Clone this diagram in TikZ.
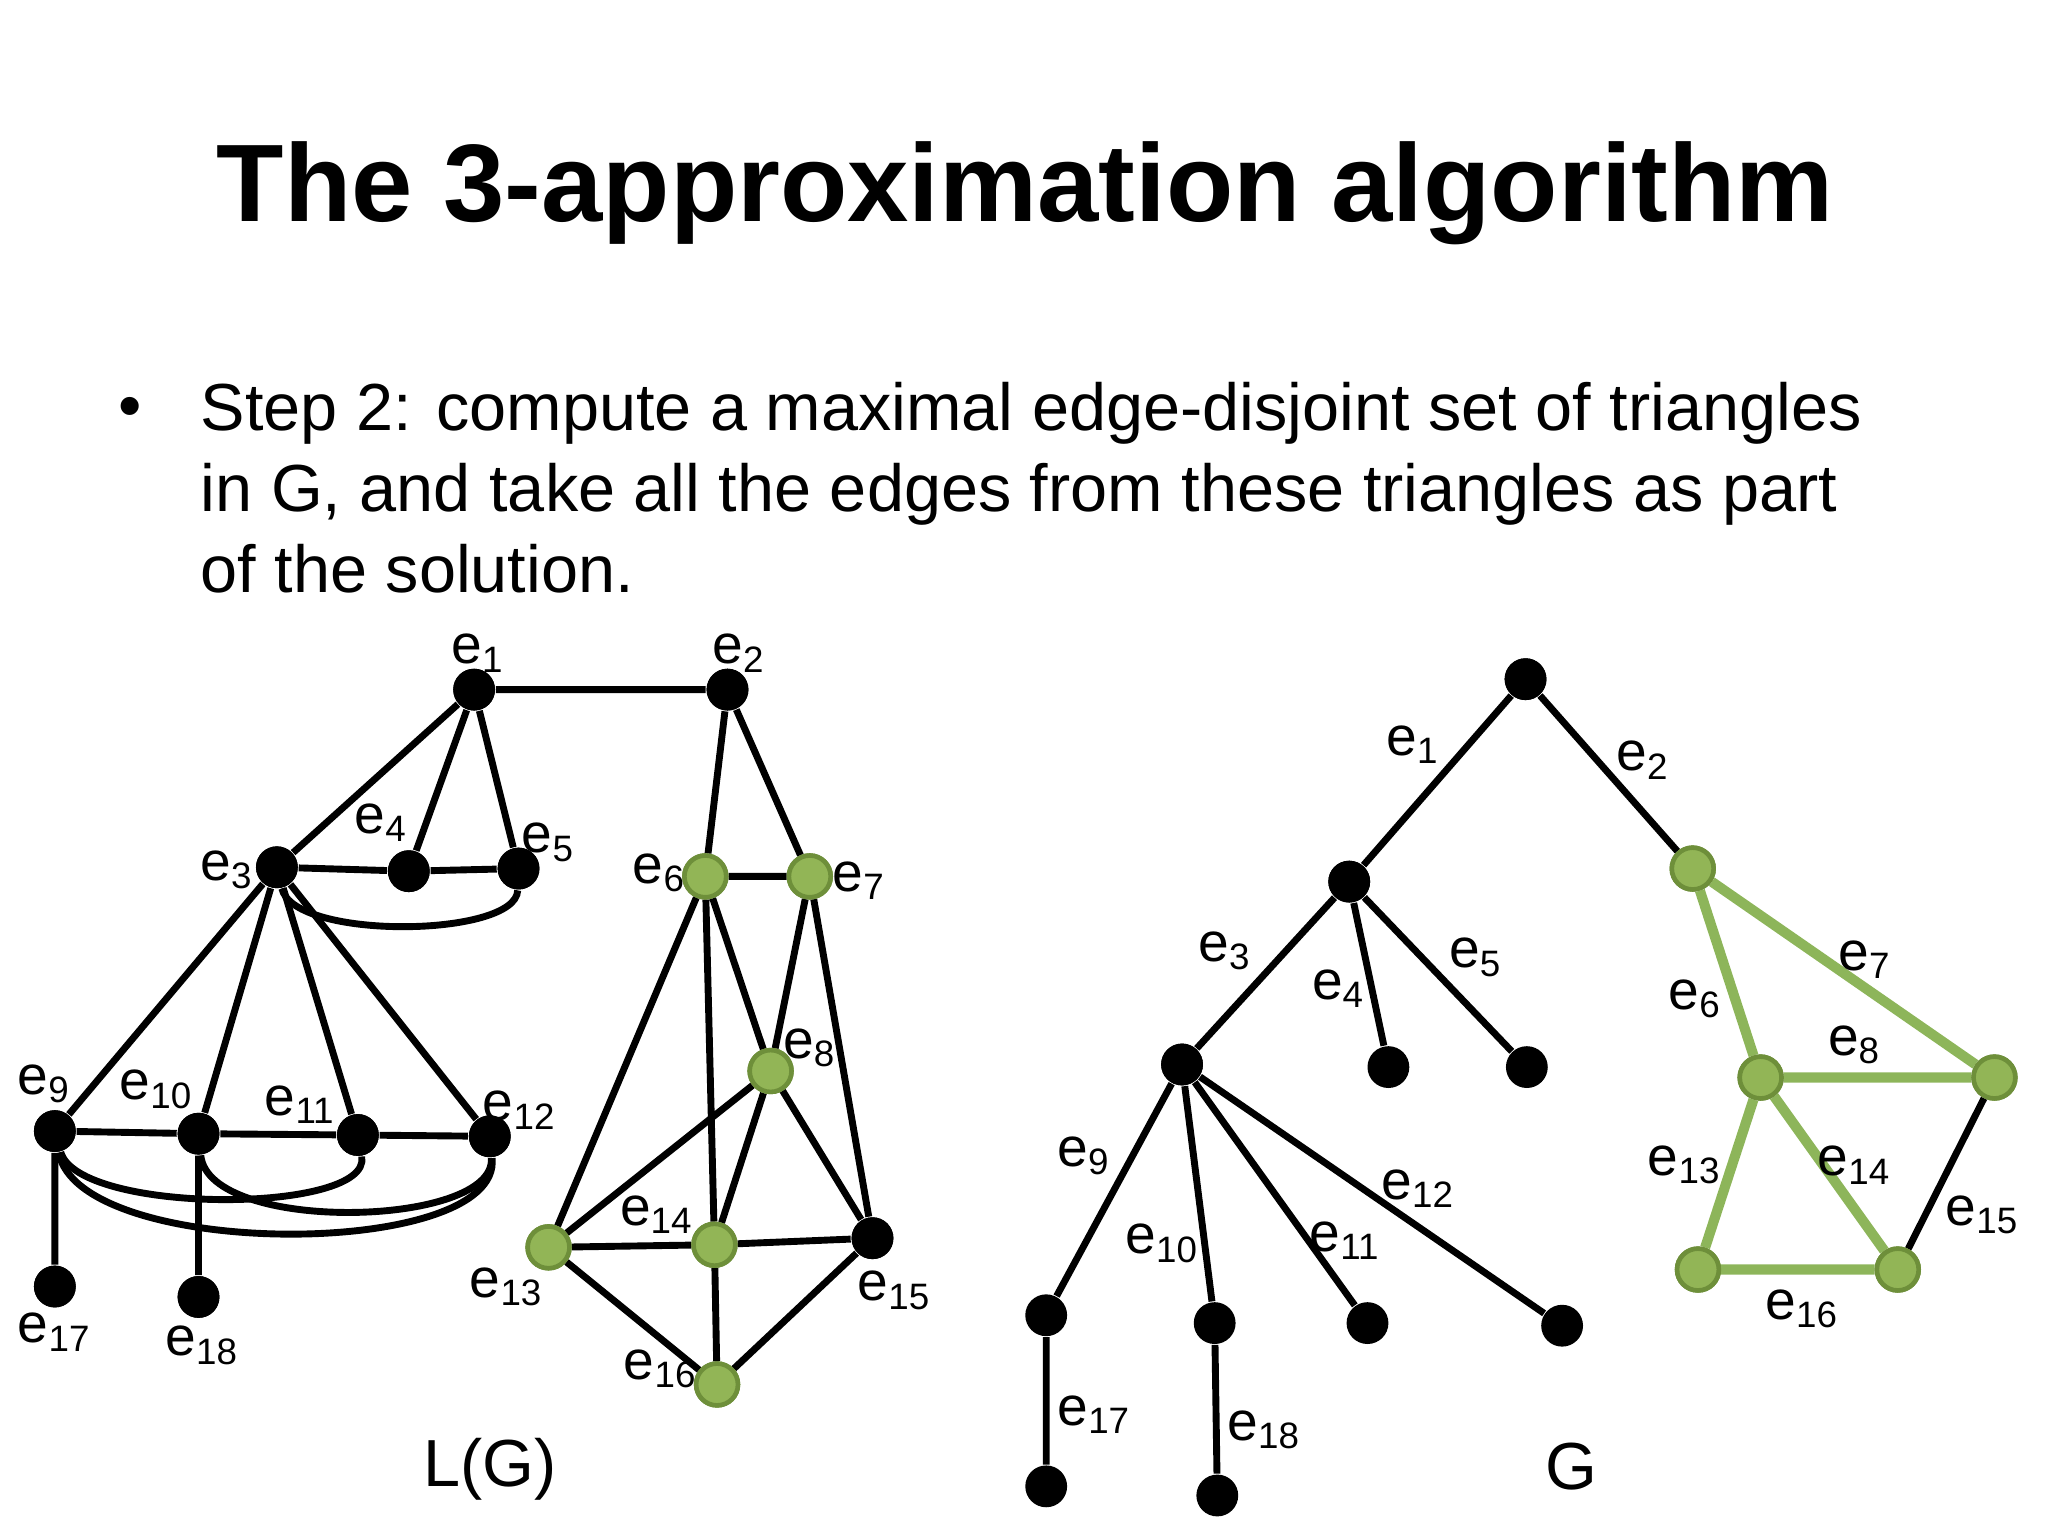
\documentclass[tikz,border=0pt]{standalone}
\usepackage{fontspec}
\setmainfont{Liberation Sans}
\definecolor{gfill}{HTML}{92B556}
\definecolor{gdraw}{HTML}{6E8F3A}
\definecolor{gline}{HTML}{8DB55A}
\begin{document}
\begin{tikzpicture}[x=0.01cm,y=-0.01cm,
  bn/.style={circle,fill=black,inner sep=0pt,minimum size=0.32cm},
  gn/.style={circle,fill=gfill,draw=gdraw,line width=1pt,inner sep=0pt,minimum size=0.32cm},
  ed/.style={line width=1.5pt,black},
  ged/.style={line width=2.2pt,gline},
  lb/.style={font=\fontsize{12}{12}\selectfont,inner sep=0pt}]
\useasboundingbox (0,0) rectangle (1568,1176);
\node[font=\bfseries\fontsize{24}{28}\selectfont] (title) at (785,148) {The 3-approximation algorithm};
\node[anchor=north west,align=left,font=\fontsize{14.5}{17.6}\selectfont,inner sep=0pt] (txt) at (153,292)
 {Step 2: compute a maximal edge-disjoint set of triangles\\ in G, and take all the edges from these triangles as part\\ of the solution.};
\node[font=\fontsize{14.5}{17}\selectfont] (bul) at (100,316) {•};
% L(G)
\node[bn] (a1) at (363,528) {}; \node[bn] (a2) at (557,528) {};
\node[bn] (a3) at (212,664) {}; \node[bn] (a4) at (313,667) {}; \node[bn] (a5) at (397,665) {};
\node[gn] (a6) at (540,671) {}; \node[gn] (a7) at (620,671) {}; \node[gn] (a8) at (590,820) {};
\node[bn] (a9) at (42,866) {}; \node[bn] (a10) at (152,868) {}; \node[bn] (a11) at (274,869) {}; \node[bn] (a12) at (375,870) {};
\node[gn] (a13) at (420,955) {}; \node[gn] (a14) at (547,953) {}; \node[bn] (a15) at (668,948) {}; \node[gn] (a16) at (549,1060) {};
\node[bn] (a17) at (42,985) {}; \node[bn] (a18) at (152,993) {};
\begin{scope}[on background layer/.style={}]
\draw[ed] (a1)--(a2) (a1)--(a3) (a1)--(a4) (a1)--(a5) (a3)--(a4) (a4)--(a5)
 (a2)--(a6) (a2)--(a7) (a6)--(a7) (a3)--(a9) (a3)--(a10) (a3)--(a11) (a3)--(a12)
 (a9)--(a10) (a10)--(a11) (a11)--(a12) (a9)--(a17) (a10)--(a18)
 (a6)--(a13) (a6)--(a14) (a6)--(a8) (a7)--(a8) (a7)--(a15) (a8)--(a13) (a8)--(a14) (a8)--(a15)
 (a13)--(a14) (a14)--(a15) (a13)--(a16) (a14)--(a16) (a15)--(a16);
\draw[ed] (a3) .. controls (225,720) and (395,718) .. (a5);
\draw[ed] (a9) .. controls (60,930) and (285,930) .. (a11);
\draw[ed] (a9) .. controls (60,965) and (385,965) .. (a12);
\draw[ed] (a10) .. controls (160,945) and (380,940) .. (a12);
\end{scope}
\foreach \n in {a1,a2,a3,a4,a5,a6,a7,a8,a9,a10,a11,a12,a13,a14,a15,a16,a17,a18}{\node[circle,inner sep=0pt,minimum size=0pt] at (\n) {};}
\node[bn] at (a1) {}; \node[bn] at (a2) {}; \node[bn] at (a3) {}; \node[bn] at (a4) {}; \node[bn] at (a5) {};
\node[gn] at (a6) {}; \node[gn] at (a7) {}; \node[gn] at (a8) {};
\node[bn] at (a9) {}; \node[bn] at (a10) {}; \node[bn] at (a11) {}; \node[bn] at (a12) {};
\node[gn] at (a13) {}; \node[gn] at (a14) {}; \node[bn] at (a15) {}; \node[gn] at (a16) {};
\node[bn] at (a17) {}; \node[bn] at (a18) {};
\node[lb] (la1) at (366,500) {e\textsubscript{1}}; \node[lb] (la2) at (566,500) {e\textsubscript{2}};
\node[lb] (la3) at (174,666) {e\textsubscript{3}}; \node[lb] (la4) at (292,630) {e\textsubscript{4}};
\node[lb] (la5) at (420,645) {e\textsubscript{5}}; \node[lb] (la6) at (505,668) {e\textsubscript{6}};
\node[lb] (la7) at (658,674) {e\textsubscript{7}}; \node[lb] (la8) at (620,802) {e\textsubscript{8}};
\node[lb] (la9) at (34,830) {e\textsubscript{9}}; \node[lb] (la10) at (120,834) {e\textsubscript{10}};
\node[lb] (la11) at (230,846) {e\textsubscript{11}}; \node[lb] (la12) at (398,850) {e\textsubscript{12}};
\node[lb] (la13) at (388,985) {e\textsubscript{13}}; \node[lb] (la14) at (503,930) {e\textsubscript{14}};
\node[lb] (la15) at (685,988) {e\textsubscript{15}}; \node[lb] (la16) at (506,1048) {e\textsubscript{16}};
\node[lb] (la17) at (42,1020) {e\textsubscript{17}}; \node[lb] (la18) at (155,1030) {e\textsubscript{18}};
\node[font=\fontsize{14.5}{17}\selectfont] (lg) at (375,1125) {L(G)};
% G
\node[bn] (r) at (1168,520) {}; \node[bn] (A) at (1033,675) {}; \node[gn] (B) at (1296,665) {};
\node[bn] (C) at (905,815) {}; \node[bn] (D) at (1063,817) {}; \node[bn] (E) at (1169,817) {};
\node[gn] (F) at (1348,825) {}; \node[gn] (H) at (1527,825) {};
\node[gn] (I) at (1300,972) {}; \node[gn] (J) at (1453,972) {};
\node[bn] (K) at (801,1007) {}; \node[bn] (L) at (930,1013) {}; \node[bn] (M) at (1047,1013) {}; \node[bn] (N) at (1196,1015) {};
\node[bn] (O) at (801,1138) {}; \node[bn] (P) at (932,1145) {};
\draw[ed] (r)--(A) (r)--(B) (A)--(C) (A)--(D) (A)--(E) (H)--(J)
 (C)--(K) (C)--(L) (C)--(M) (C)--(N) (K)--(O) (L)--(P);
\draw[ged] (B)--(F) (B)--(H) (F)--(H) (F)--(I) (F)--(J) (I)--(J);
\node[gn] at (B) {}; \node[gn] at (F) {}; \node[gn] at (H) {}; \node[gn] at (I) {}; \node[gn] at (J) {};
\node[bn] at (r) {}; \node[bn] at (A) {}; \node[bn] at (C) {};
\node[lb] (g1) at (1082,570) {e\textsubscript{1}}; \node[lb] (g2) at (1258,582) {e\textsubscript{2}};
\node[lb] (g3) at (938,728) {e\textsubscript{3}}; \node[lb] (g4) at (1025,757) {e\textsubscript{4}};
\node[lb] (g5) at (1130,733) {e\textsubscript{5}}; \node[lb] (g6) at (1298,765) {e\textsubscript{6}};
\node[lb] (g7) at (1428,735) {e\textsubscript{7}}; \node[lb] (g8) at (1420,800) {e\textsubscript{8}};
\node[lb] (g9) at (830,885) {e\textsubscript{9}}; \node[lb] (g10) at (890,952) {e\textsubscript{10}};
\node[lb] (g11) at (1030,950) {e\textsubscript{11}}; \node[lb] (g12) at (1086,910) {e\textsubscript{12}};
\node[lb] (g13) at (1290,892) {e\textsubscript{13}}; \node[lb] (g14) at (1420,892) {e\textsubscript{14}};
\node[lb] (g15) at (1518,930) {e\textsubscript{15}}; \node[lb] (g16) at (1380,1002) {e\textsubscript{16}};
\node[lb] (g17) at (838,1083) {e\textsubscript{17}}; \node[lb] (g18) at (968,1095) {e\textsubscript{18}};
\node[font=\fontsize{14.5}{17}\selectfont] (gg) at (1203,1123) {G};
\end{tikzpicture}
\end{document}
